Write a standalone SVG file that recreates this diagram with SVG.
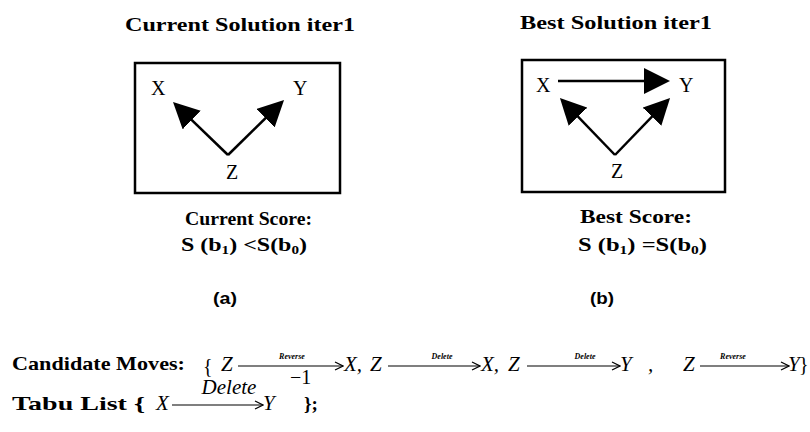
<svg xmlns="http://www.w3.org/2000/svg" width="810" height="432" viewBox="0 0 810 432">
<defs>
<style>
.t{font-family:"Liberation Serif","Times New Roman",serif;font-weight:bold;font-size:19px;fill:#000}
.n{font-family:"Liberation Serif","Times New Roman",serif;font-size:20px;fill:#000}
.lab{font-family:"Liberation Sans",Arial,sans-serif;font-weight:bold;font-size:17px;fill:#000}
.m{font-family:"Liberation Serif","Times New Roman",serif;font-style:italic;font-size:21px;fill:#000}
.ml{font-family:"Liberation Serif","Times New Roman",serif;font-style:italic;font-weight:bold;font-size:8px;fill:#000}
.box{fill:none;stroke:#000;stroke-width:2.5}
.e{stroke:#000;stroke-width:2.5;fill:none}
.f{stroke:#000;stroke-width:1.2;fill:none}
</style>
<marker id="tri" viewBox="0 0 26 26" refX="16" refY="13" markerWidth="26" markerHeight="26" markerUnits="userSpaceOnUse" orient="auto">
<path d="M0,0 L26,13 L0,26 z" fill="#000"/>
</marker>
<marker id="chev" viewBox="0 0 10 10" refX="9" refY="5" markerWidth="10" markerHeight="10" markerUnits="userSpaceOnUse" orient="auto">
<path d="M1,1 L9,5 L1,9" fill="none" stroke="#000" stroke-width="1.2"/>
</marker>
</defs>
<rect width="810" height="432" fill="#fff"/>

<text class="t" x="125" y="31" textLength="230" lengthAdjust="spacingAndGlyphs">Current Solution iter1</text>
<text class="t" x="520" y="29" textLength="192" lengthAdjust="spacingAndGlyphs">Best Solution iter1</text>

<g id="boxA"><rect class="box" x="135" y="63" width="205" height="130"/></g>
<g id="boxB"><rect class="box" x="522" y="60" width="203" height="132"/></g>

<g id="aX"><text class="n" x="151" y="95">X</text></g>
<g id="aY"><text class="n" x="293" y="95">Y</text></g>
<g id="aZ"><text class="n" x="226" y="179">Z</text></g>
<g id="bX"><text class="n" x="536" y="92">X</text></g>
<g id="bY"><text class="n" x="679" y="92">Y</text></g>
<g id="bZ"><text class="n" x="611" y="178">Z</text></g>

<g id="edges">
<line class="e" x1="228" y1="155" x2="180.2" y2="108.9" marker-end="url(#tri)"/>
<line class="e" x1="228" y1="155" x2="276.9" y2="107" marker-end="url(#tri)"/>
<line class="e" x1="615" y1="155" x2="566.9" y2="105.2" marker-end="url(#tri)"/>
<line class="e" x1="615" y1="155" x2="663.1" y2="105.2" marker-end="url(#tri)"/>
<line class="e" x1="558" y1="81" x2="660" y2="81" marker-end="url(#tri)"/>
</g>

<text class="t" x="185" y="225" textLength="127" lengthAdjust="spacingAndGlyphs">Current Score:</text>
<text class="t" x="181" y="251" textLength="126" lengthAdjust="spacingAndGlyphs">S (b<tspan font-size="12" dy="3">1</tspan><tspan dy="-3">) &lt;S(b</tspan><tspan font-size="12" dy="3">0</tspan><tspan dy="-3">)</tspan></text>
<text class="t" x="580" y="223" textLength="112" lengthAdjust="spacingAndGlyphs">Best Score:</text>
<text class="t" x="578" y="251" textLength="129" lengthAdjust="spacingAndGlyphs">S (b<tspan font-size="12" dy="3">1</tspan><tspan dy="-3">) =S(b</tspan><tspan font-size="12" dy="3">0</tspan><tspan dy="-3">)</tspan></text>

<text class="lab" x="213" y="304" textLength="24" lengthAdjust="spacingAndGlyphs">(a)</text>
<text class="lab" x="590" y="304" textLength="24" lengthAdjust="spacingAndGlyphs">(b)</text>

<text class="t" x="12" y="370" textLength="173" lengthAdjust="spacingAndGlyphs">Candidate Moves:</text>
<text class="n" x="203" y="373" font-size="26">{</text>
<text class="m" x="221" y="371">Z</text>
<line class="f" x1="238" y1="366" x2="343" y2="366" marker-end="url(#chev)"/>
<text class="ml" x="292" y="359" text-anchor="middle">Reverse</text>
<text class="m" x="344" y="371">X,</text>
<text class="m" x="370" y="371">Z</text>
<line class="f" x1="388" y1="366" x2="480" y2="366" marker-end="url(#chev)"/>
<text class="ml" x="442" y="359" text-anchor="middle">Delete</text>
<text class="m" x="481" y="371">X,</text>
<text class="m" x="508" y="371">Z</text>
<line class="f" x1="527" y1="366" x2="620" y2="366" marker-end="url(#chev)"/>
<text class="ml" x="585" y="359" text-anchor="middle">Delete</text>
<text class="m" x="620" y="371">Y</text>
<text class="m" x="648" y="371">,</text>
<text class="m" x="683" y="371">Z</text>
<line class="f" x1="700" y1="366" x2="789" y2="366" marker-end="url(#chev)"/>
<text class="ml" x="733" y="359" text-anchor="middle">Reverse</text>
<text class="m" x="788" y="371">Y</text>
<text class="n" x="799" y="371" font-size="19">}</text>

<text class="t" x="12" y="410" textLength="133" lengthAdjust="spacingAndGlyphs">Tabu List {</text>
<text class="m" x="156" y="410">X</text>
<line class="f" x1="172" y1="405" x2="263" y2="405" marker-end="url(#chev)"/>
<text class="m" x="229" y="394" font-size="17" text-anchor="middle">Delete</text>
<text class="m" x="263" y="410">Y</text>
<text class="n" x="290" y="384" font-size="11">−1</text>
<text class="t" x="304" y="410">};</text>
</svg>
